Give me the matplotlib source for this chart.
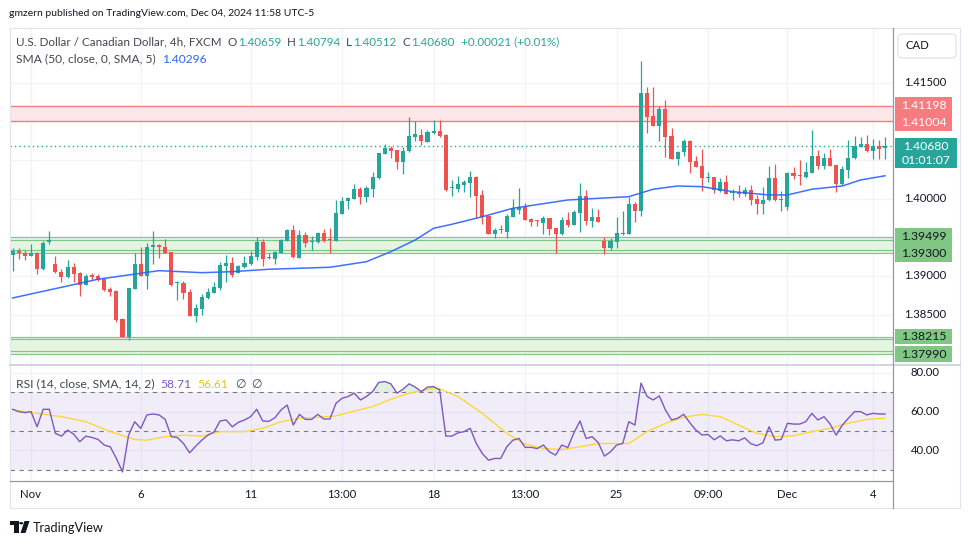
import matplotlib
matplotlib.use("Agg")
import matplotlib.pyplot as plt
from matplotlib.patches import Rectangle, FancyBboxPatch, Polygon, Circle
from matplotlib.lines import Line2D
import numpy as np

plt.rcParams['font.family'] = ['Lato', 'DejaVu Sans']

# ---------------- data ----------------
opens = [1.39276, 1.39324, 1.39298, 1.39263, 1.39298, 1.39095, 1.39444, 1.39156, 1.39052, 1.38991,
         1.39117, 1.39043, 1.38888, 1.39000, 1.39000, 1.38962, 1.38832, 1.38807, 1.38444, 1.38212,
         1.38836, 1.39156, 1.39004, 1.39372, 1.39401, 1.39375, 1.39311, 1.38904, 1.38906, 1.38790,
         1.38487, 1.38574, 1.38716, 1.38785, 1.38849, 1.39134, 1.39169, 1.39043, 1.39117, 1.39156,
         1.39246, 1.39440, 1.39229, 1.39224, 1.39302, 1.39457, 1.39599, 1.39237, 1.39531, 1.39434,
         1.39436, 1.39556, 1.39466, 1.39457, 1.39806, 1.39966, 1.40000, 1.40125, 1.40026, 1.40129,
         1.40272, 1.40582, 1.40656, 1.40626, 1.40478, 1.40613, 1.40802, 1.40824, 1.40737, 1.40853,
         1.40875, 1.40824, 1.40132, 1.40125, 1.40181, 1.40207, 1.40281, 1.40048, 1.39780, 1.39547,
         1.39595, 1.39573, 1.39767, 1.39858, 1.39897, 1.39738, 1.39716, 1.39686, 1.39747, 1.39617,
         1.39544, 1.39721, 1.39660, 1.39819, 1.40031, 1.39716, 1.39759, 1.39457, 1.39366, 1.39444,
         1.39544, 1.39547, 1.39931, 1.39845, 1.41367, 1.41065, 1.40944, 1.41160, 1.40811, 1.40517,
         1.40600, 1.40742, 1.40487, 1.40423, 1.40268, 1.40281, 1.40103, 1.40212, 1.40070, 1.40087,
         1.40057, 1.40112, 1.39996, 1.39935, 1.39979, 1.40268, 1.39977, 1.39889, 1.40332, 1.40306,
         1.40284, 1.40336, 1.40548, 1.40427, 1.40530, 1.40436, 1.40194, 1.40375, 1.40522, 1.40672,
         1.40707, 1.40621, 1.40681, 1.40659]
highs = [1.39363, 1.39359, 1.39337, 1.39414, 1.39305, 1.39453, 1.39582, 1.39259, 1.39091, 1.39211,
         1.39172, 1.39050, 1.39026, 1.39043, 1.39026, 1.38970, 1.38858, 1.38816, 1.38461, 1.38850,
         1.39298, 1.39375, 1.39427, 1.39582, 1.39418, 1.39483, 1.39315, 1.38940, 1.38940, 1.38832,
         1.38638, 1.38764, 1.38841, 1.38927, 1.39185, 1.39268, 1.39242, 1.39139, 1.39256, 1.39328,
         1.39505, 1.39483, 1.39294, 1.39320, 1.39479, 1.39608, 1.39660, 1.39595, 1.39569, 1.39514,
         1.39563, 1.39608, 1.39621, 1.39983, 1.40022, 1.40022, 1.40190, 1.40155, 1.40168, 1.40341,
         1.40595, 1.40703, 1.40678, 1.40630, 1.40672, 1.41056, 1.41005, 1.40901, 1.40888, 1.41018,
         1.41018, 1.40837, 1.40238, 1.40294, 1.40246, 1.40358, 1.40297, 1.40112, 1.39785, 1.39621,
         1.39660, 1.39798, 1.39996, 1.40138, 1.39948, 1.39747, 1.39725, 1.39776, 1.39755, 1.39620,
         1.39763, 1.39828, 1.39850, 1.40203, 1.40112, 1.39884, 1.39867, 1.39501, 1.39492, 1.39759,
         1.39837, 1.40022, 1.39957, 1.41780, 1.41440, 1.41444, 1.41202, 1.41276, 1.40914, 1.40610,
         1.40772, 1.40755, 1.40556, 1.40643, 1.40341, 1.40285, 1.40264, 1.40306, 1.40122, 1.40181,
         1.40151, 1.40177, 1.40048, 1.40151, 1.40423, 1.40445, 1.40096, 1.40341, 1.40410, 1.40497,
         1.40471, 1.40888, 1.40626, 1.40587, 1.40643, 1.40440, 1.40423, 1.40759, 1.40807, 1.40794,
         1.40824, 1.40776, 1.40755, 1.40794]
lows = [1.39069, 1.39224, 1.39211, 1.39255, 1.39023, 1.39078, 1.39410, 1.39040, 1.38919, 1.38971,
        1.38927, 1.38746, 1.38880, 1.38945, 1.38940, 1.38803, 1.38746, 1.38410, 1.38205, 1.38169,
        1.38830, 1.38998, 1.38836, 1.39149, 1.39237, 1.39295, 1.38871, 1.38690, 1.38699, 1.38480,
        1.38410, 1.38496, 1.38707, 1.38780, 1.38819, 1.38927, 1.38991, 1.39035, 1.39104, 1.39143,
        1.39207, 1.39130, 1.39224, 1.39160, 1.39295, 1.39450, 1.39237, 1.39230, 1.39379, 1.39341,
        1.39430, 1.39444, 1.39302, 1.39450, 1.39800, 1.39871, 1.39995, 1.39935, 1.39961, 1.40026,
        1.40259, 1.40575, 1.40530, 1.40388, 1.40323, 1.40605, 1.40750, 1.40698, 1.40730, 1.40837,
        1.40794, 1.40103, 1.40039, 1.40091, 1.40083, 1.40022, 1.39754, 1.39673, 1.39540, 1.39496,
        1.39560, 1.39496, 1.39760, 1.39798, 1.39720, 1.39651, 1.39643, 1.39547, 1.39535, 1.39302,
        1.39527, 1.39634, 1.39655, 1.39573, 1.39660, 1.39630, 1.39695, 1.39281, 1.39333, 1.39366,
        1.39527, 1.39540, 1.39695, 1.39780, 1.40853, 1.40940, 1.40750, 1.40535, 1.40510, 1.40440,
        1.40556, 1.40336, 1.40410, 1.40100, 1.40212, 1.40070, 1.40091, 1.40060, 1.39979, 1.40026,
        1.40035, 1.39919, 1.39806, 1.39806, 1.39975, 1.39975, 1.39845, 1.39854, 1.40251, 1.40173,
        1.40264, 1.40330, 1.40384, 1.40380, 1.40420, 1.40091, 1.40177, 1.40264, 1.40515, 1.40665,
        1.40608, 1.40513, 1.40513, 1.40512]
closes = [1.39324, 1.39294, 1.39263, 1.39298, 1.39095, 1.39427, 1.39449, 1.39048, 1.38991, 1.39117,
          1.39030, 1.38888, 1.39000, 1.38991, 1.38945, 1.38823, 1.38798, 1.38432, 1.38212, 1.38845,
          1.39156, 1.39004, 1.39375, 1.39401, 1.39372, 1.39302, 1.38884, 1.38910, 1.38785, 1.38487,
          1.38587, 1.38725, 1.38790, 1.38858, 1.39143, 1.39169, 1.39017, 1.39130, 1.39169, 1.39259,
          1.39440, 1.39224, 1.39233, 1.39315, 1.39466, 1.39599, 1.39240, 1.39531, 1.39423, 1.39440,
          1.39556, 1.39457, 1.39460, 1.39815, 1.39970, 1.40009, 1.40125, 1.40026, 1.40138, 1.40281,
          1.40591, 1.40652, 1.40617, 1.40478, 1.40613, 1.40811, 1.40837, 1.40742, 1.40862, 1.40875,
          1.40815, 1.40116, 1.40138, 1.40186, 1.40216, 1.40281, 1.40039, 1.39767, 1.39547, 1.39595,
          1.39589, 1.39780, 1.39876, 1.39897, 1.39728, 1.39703, 1.39709, 1.39747, 1.39612, 1.39544,
          1.39721, 1.39656, 1.39828, 1.40031, 1.39716, 1.39759, 1.39703, 1.39366, 1.39453, 1.39553,
          1.39550, 1.39931, 1.39845, 1.41367, 1.41060, 1.40944, 1.41160, 1.40802, 1.40517, 1.40604,
          1.40742, 1.40478, 1.40414, 1.40272, 1.40274, 1.40112, 1.40220, 1.40065, 1.40087, 1.40057,
          1.40112, 1.39987, 1.39935, 1.39983, 1.40268, 1.39979, 1.39979, 1.40332, 1.40297, 1.40290,
          1.40345, 1.40548, 1.40427, 1.40530, 1.40427, 1.40194, 1.40384, 1.40526, 1.40681, 1.40707,
          1.40621, 1.40681, 1.40647, 1.40680]

sma_idx = [0, 14, 24, 31, 36, 42, 47, 52, 58, 62, 66, 69, 72, 77, 82, 91, 101, 105, 109, 113,
           118, 124, 127, 131, 136, 139, 143]
sma_val = [1.38716, 1.38958, 1.39069, 1.39043, 1.39056, 1.39087, 1.39100, 1.39113, 1.39185, 1.39315,
           1.39466, 1.39617, 1.39669, 1.39767, 1.39876, 1.39983, 1.40026, 1.40122, 1.40164, 1.40155,
           1.40091, 1.40048, 1.40048, 1.40122, 1.40164, 1.40242, 1.40296]

rsi = [61.2, 60.0, 59.5, 60.0, 52.2, 61.2, 61.2, 48.8, 47.4, 50.5,
       48.4, 44.5, 47.4, 46.7, 45.7, 42.8, 41.9, 35.9, 29.0, 47.9,
       54.8, 51.4, 58.3, 58.8, 58.3, 56.0, 47.1, 46.7, 43.6, 38.8,
       42.2, 45.3, 47.9, 49.5, 55.2, 55.7, 52.2, 54.5, 55.7, 57.4,
       61.2, 55.2, 55.0, 56.9, 60.9, 63.4, 53.1, 58.6, 56.0, 56.0,
       58.6, 56.2, 56.2, 64.3, 66.9, 67.8, 69.5, 66.0, 67.8, 70.3,
       75.0, 75.5, 74.3, 69.5, 71.6, 74.3, 72.6, 70.3, 72.6, 72.9,
       71.2, 47.4, 47.4, 49.1, 49.7, 51.4, 43.6, 38.4, 35.0, 35.9,
       35.9, 41.9, 45.3, 46.2, 41.6, 41.6, 41.0, 42.8, 39.3, 37.6,
       42.8, 41.5, 49.1, 55.2, 46.2, 47.1, 44.0, 37.1, 39.3, 42.8,
       43.6, 54.8, 53.1, 74.7, 67.8, 66.0, 68.1, 60.9, 55.7, 56.6,
       58.6, 54.3, 50.5, 48.0, 48.2, 45.5, 47.5, 45.0, 45.5, 45.0,
       46.5, 43.5, 42.5, 44.0, 52.2, 45.3, 45.7, 54.0, 53.6, 53.6,
       54.8, 59.1, 55.7, 57.4, 53.6, 47.9, 53.1, 56.6, 60.0, 60.0,
       58.3, 59.1, 58.8, 58.71]

rsi_ma_idx = [0, 4, 8, 12, 16, 20, 22, 25, 28, 31, 34, 38, 41, 44, 47, 50, 53, 56, 59, 62,
              65, 69, 70, 73, 77, 81, 84, 87, 90, 93, 96, 99, 101, 104, 107, 110, 113, 116,
              119, 122, 125, 128, 131, 134, 137, 140, 143]
rsi_ma_val = [60.9, 59.1, 57.4, 54.8, 49.7, 45.7, 45.3, 47.1, 47.9, 47.4, 49.7, 49.7, 51.4, 54.8,
              56.6, 57.1, 57.8, 60.3, 62.6, 66.4, 69.5, 72.1, 71.7, 67.8, 59.1, 48.8, 43.3, 41.0,
              40.5, 41.9, 43.6, 43.6, 43.6, 49.7, 54.0, 57.1, 58.6, 57.4, 53.1, 48.8, 47.1, 47.6,
              49.7, 51.4, 54.0, 56.0, 56.61]

tick_pos = [3, 21, 39, 54, 69, 84, 99, 114, 127, 141]
tick_labels = ["Nov", "6", "11", "13:00", "18", "13:00", "25", "09:00", "Dec", "4"]
price_labels = [1.415, 1.400, 1.390, 1.385]
price_grid = [1.380, 1.385, 1.390, 1.395, 1.400, 1.405, 1.410, 1.415]
rsi_labels = [80, 60, 40]
red_zone = (1.41004, 1.41198)
green_zone = (1.39300, 1.39499)
green_zone_low = (1.37990, 1.38215)
last_price = 1.40680
countdown = "01:01:07"
sma_last = 1.40296
rsi_last, rsi_ma_last = 58.71, 56.61

# ---------------- styling ----------------
UP, DN = '#26a69a', '#ef5350'
GRID = '#f0f3fa'
TXT = '#131722'
GRAY = '#434651'
W, H = 970, 545
fig = plt.figure(figsize=(W / 100, H / 100), dpi=100)
fig.patch.set_facecolor('white')
renderer = fig.canvas.get_renderer()


def fx(px):
    return px / W


def fy(py):
    return 1 - py / H


L_PX, R_PX = 10, 893
MAIN_T, MAIN_B = 28, 365
RSI_T, RSI_B = 365, 481
ax = fig.add_axes([fx(L_PX), fy(MAIN_B), (R_PX - L_PX) / W, (MAIN_B - MAIN_T) / H])
ax2 = fig.add_axes([fx(L_PX), fy(RSI_B), (R_PX - L_PX) / W, (RSI_B - RSI_T) / H], sharex=ax)
for a in (ax, ax2):
    a.set_facecolor('none')
    for s in a.spines.values():
        s.set_visible(False)
    a.tick_params(left=False, bottom=False, labelleft=False, labelbottom=False)

n = len(closes)
x = np.arange(n)
ax.set_xlim(-0.44, 144.31)
ax.set_ylim(1.37849, 1.42207)
ax2.set_ylim(24.3, 84.0)


def py_main(p):
    return H - ax.transData.transform((0, p))[1]


def py_rsi(v):
    return H - ax2.transData.transform((0, v))[1]


px_unit = (1.42207 - 1.37849) / (MAIN_B - MAIN_T)

# grids
for t in tick_pos:
    ax.axvline(t, color=GRID, lw=1, zorder=0)
    ax2.axvline(t, color=GRID, lw=1, zorder=0)
for g in price_grid:
    ax.axhline(g, color=GRID, lw=1, zorder=0)
for g in rsi_labels:
    ax2.axhline(g, color=GRID, lw=1, zorder=0)

# zones
ax.axhspan(*red_zone, color='#fde6e7', zorder=1, lw=0)
for lv in red_zone:
    ax.axhline(lv, color='#f77c80', lw=1.0, zorder=1.5)
for zone in (green_zone, green_zone_low):
    ax.axhspan(*zone, color='#e6f4e4', zorder=1, lw=0)
    lo, hi = zone
    for lv in (lo, lo + 2.6 * px_unit, hi - 2.6 * px_unit, hi):
        ax.axhline(lv, color='#81c784', lw=0.85, zorder=1.5)

# current price dotted line
ax.axhline(last_price, color=UP, lw=1, ls=(0, (1, 2.2)), zorder=1.6)

# candles
o, h, l, c = map(np.array, (opens, highs, lows, closes))
cols = np.where(c >= o, UP, DN)
ax.vlines(x, l, h, colors=cols, lw=0.9, zorder=3)
body_lo = np.minimum(o, c)
body_h = np.maximum(np.abs(c - o), 1.3 * px_unit)
ax.bar(x, body_h, bottom=body_lo, width=0.66, color=cols, lw=0, zorder=3)

# SMA
ax.plot(sma_idx, sma_val, color='#2962ff', lw=1.1, zorder=4, alpha=0.9)

# RSI panel
ax2.axhspan(30, 70, color='#7e57c2', alpha=0.1, lw=0, zorder=0.5)
for lv in (70, 50, 30):
    ax2.axhline(lv, color='#787b86', lw=0.8, ls=(0, (4, 4)), zorder=1)
rsi_a = np.array(rsi)
ax2.fill_between(x, rsi_a, 70, where=rsi_a > 70, interpolate=True, color='#4caf50', alpha=0.18, lw=0)
ax2.fill_between(x, rsi_a, 30, where=rsi_a < 30, interpolate=True, color='#f44336', alpha=0.18, lw=0)
ax2.plot(rsi_ma_idx, rsi_ma_val, color='#fdd835', lw=1.0, zorder=3)
ax2.plot(x, rsi_a, color='#7e57c2', lw=1.0, zorder=4)

# ---------------- frame lines ----------------
def hline(y, x0, x1, color, lw=1.0):
    fig.add_artist(Line2D([fx(x0), fx(x1)], [fy(y), fy(y)], color=color, lw=lw, transform=fig.transFigure))


def vline(xp, y0, y1, color, lw=1.0):
    fig.add_artist(Line2D([fx(xp), fx(xp)], [fy(y0), fy(y1)], color=color, lw=lw, transform=fig.transFigure))


fig.add_artist(Rectangle((fx(10), fy(508)), 950 / W, 480 / H, fill=False, ec='#e0e3eb', lw=0.8,
                         transform=fig.transFigure))
hline(365, 10, 960, '#d1d4dc', 1.4)
hline(481, 10, 893, '#9598a1', 0.9)
vline(893, 28, 508, '#9598a1', 0.9)

# ---------------- text helpers ----------------
def seq_text(x0, y, pieces, target_w, base=9.0, gap=5.0):
    ts = []
    for s, col, g in pieces:
        ts.append(fig.text(fx(x0), fy(y), s, color=col, fontsize=base, va='center', ha='left'))
    widths = [t.get_window_extent(renderer).width for t in ts]
    gaps = sum(g for _, _, g in pieces)
    size = base * (target_w - gaps) / sum(widths)
    xx = x0
    for t, (s, col, g) in zip(ts, pieces):
        xx += g
        t.set_fontsize(size)
        t.set_position((fx(xx), fy(y)))
        xx += t.get_window_extent(renderer).width
    return size


seq_text(9, 14, [("gmzern published on TradingView.com, Dec 04, 2024 11:58 UTC-5", TXT, 0)], 307)
G = '#26a69a'
seq_text(16, 42, [("U.S. Dollar / Canadian Dollar, 4h, FXCM", GRAY, 0), ("O", GRAY, 6), ("1.40659", G, 1),
                  ("H", GRAY, 6), ("1.40794", G, 1), ("L", GRAY, 6), ("1.40512", G, 1),
                  ("C", GRAY, 6), (f"{last_price:.5f}", G, 1), ("+0.00021 (+0.01%)", G, 6)], 545)
seq_text(16, 59, [("SMA (50, close, 0, SMA, 5)", GRAY, 0), (f"{sma_last:.5f}", '#2962ff', 7)], 190)
seq_text(16, 384, [("RSI (14, close, SMA, 14, 2)", GRAY, 0), (f"{rsi_last:.2f}", '#7e57c2', 6),
                   (f"{rsi_ma_last:.2f}", '#e6c619', 6), ("∅", GRAY, 7), ("∅", GRAY, 5)], 247)

AXFS = 8.2
# price labels
for p in price_labels:
    fig.text(fx(925), fy(py_main(p)), f"{p:.5f}", color=TXT, fontsize=AXFS, ha='center', va='center')
for v in rsi_labels:
    fig.text(fx(925), fy(py_rsi(v)), f"{v:.2f}", color=TXT, fontsize=AXFS, ha='center', va='center')
# time labels
for t, lab in zip(tick_pos, tick_labels):
    xp = ax.transData.transform((t, 0))[0]
    fig.text(xp / W, fy(495), lab, color=TXT, fontsize=AXFS, ha='center', va='center')


def label_box(levels, texts, face, tcolor, spread=17.0, pad=8.5):
    ys = [py_main(lv) for lv in levels]
    if len(ys) == 2 and abs(ys[1] - ys[0]) < spread:
        m = (ys[0] + ys[1]) / 2
        ys = [m - spread / 2, m + spread / 2]
    top, bot = min(ys) - pad, max(ys) + pad
    fig.add_artist(Rectangle((fx(895), fy(bot)), 57 / W, (bot - top) / H, fc=face, ec='none',
                             transform=fig.transFigure))
    for yy, s in zip(ys, texts):
        fig.text(fx(923.5), fy(yy), s, color=tcolor, fontsize=AXFS + 0.6, ha='center', va='center')


label_box([red_zone[1], red_zone[0]], [f"{red_zone[1]:.5f}", f"{red_zone[0]:.5f}"], '#f77c80', 'white')
label_box([green_zone[1], green_zone[0]], [f"{green_zone[1]:.5f}", f"{green_zone[0]:.5f}"], '#81c784', TXT)
label_box([green_zone_low[1]], [f"{green_zone_low[1]:.5f}"], '#81c784', TXT, pad=7.8)
label_box([green_zone_low[0]], [f"{green_zone_low[0]:.5f}"], '#81c784', TXT, pad=7.8)
# last price box
yl = py_main(last_price)
fig.add_artist(Rectangle((fx(895), fy(yl + 22)), 62 / W, 30 / H, fc=UP, ec='none', transform=fig.transFigure))
fig.text(fx(926), fy(yl + 0.5), f"{last_price:.5f}", color='white', fontsize=AXFS + 0.6, ha='center', va='center')
fig.text(fx(926), fy(yl + 14.5), countdown, color='white', fontsize=AXFS + 0.6, ha='center', va='center')

# CAD box
fig.add_artist(FancyBboxPatch((fx(898), fy(58)), 58 / W, 24 / H, boxstyle="round,pad=0,rounding_size=0.006",
                              fc='white', ec='#e0e3eb', lw=0.9, transform=fig.transFigure))
fig.text(fx(917), fy(45.5), "CAD", color=TXT, fontsize=8.2, ha='center', va='center')

# TradingView logo
def poly(pts, color=TXT):
    fig.add_artist(Polygon([(fx(a), fy(b)) for a, b in pts], closed=True, fc=color, ec='none',
                           transform=fig.transFigure))


poly([(10, 521), (18.5, 521), (18.5, 533), (14.5, 533), (14.5, 525), (10, 525)])
fig.add_artist(Circle((fx(21.2), fy(523.2)), 2.1 / W, fc=TXT, ec='none', transform=fig.transFigure))
poly([(24.5, 521), (29.5, 521), (25.5, 533), (20.5, 533)])
seq_text(33, 527.5, [("TradingView", TXT, 0)], 71)

fig.savefig("out.png", dpi=100, facecolor='white')
